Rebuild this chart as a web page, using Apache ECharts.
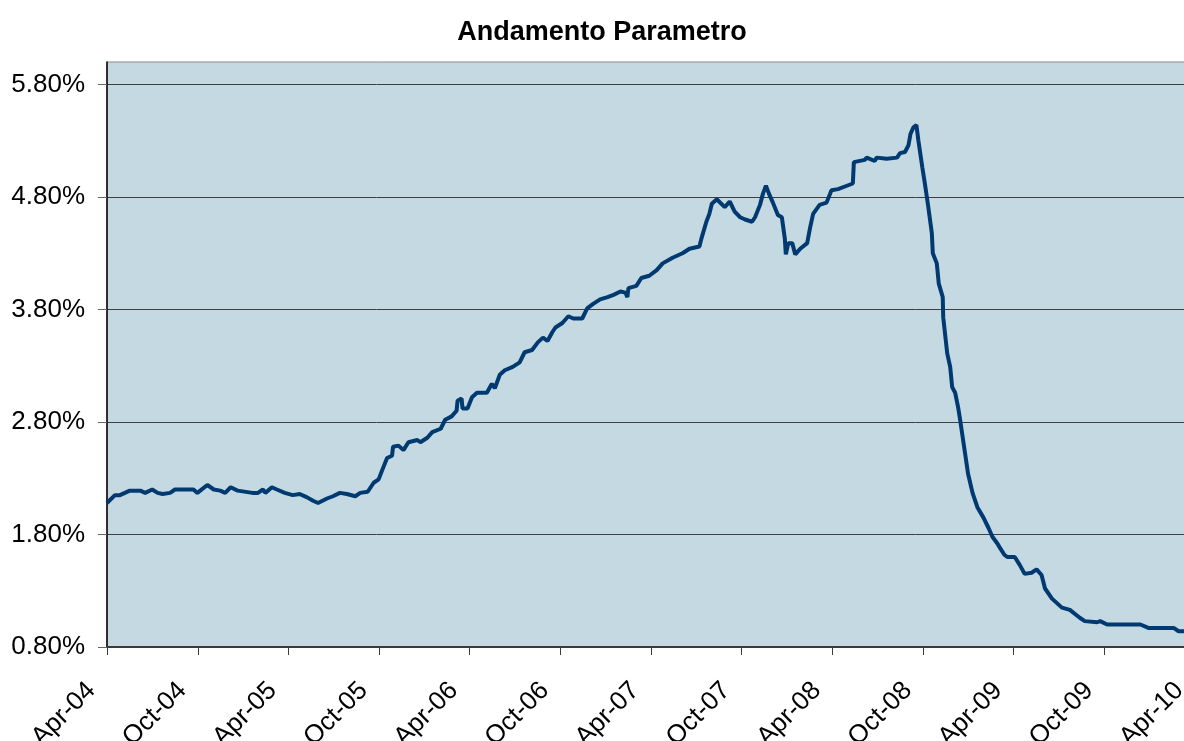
<!DOCTYPE html>
<html>
<head>
<meta charset="utf-8">
<script src="https://cdn.jsdelivr.net/npm/echarts@6/dist/echarts.min.js"></script>
<style>
html,body{margin:0;padding:0;background:#fff;}
#chart{width:1184px;height:741px;}
</style>
</head>
<body>
<div id="chart"></div>
<script>
const title = 'Andamento Parametro';

const dates = [
'2004-04-01','2004-04-17','2004-04-27','2004-05-17','2004-06-07','2004-06-17','2004-07-01','2004-07-12','2004-07-22','2004-08-06',
'2004-08-16','2004-09-22','2004-09-30','2004-10-20','2004-11-02','2004-11-15','2004-11-25','2004-12-06','2004-12-20','2005-01-19',
'2005-01-30','2005-02-09','2005-02-14','2005-02-27','2005-03-09','2005-03-25','2005-04-10','2005-04-24','2005-05-09','2005-05-21',
'2005-05-31','2005-06-18','2005-06-30','2005-07-14','2005-07-28','2005-08-14','2005-08-24','2005-09-08','2005-09-20','2005-09-30',
'2005-10-07','2005-10-17','2005-10-27','2005-10-29','2005-11-09','2005-11-19','2005-11-29','2005-12-17','2005-12-23','2006-01-06',
'2006-01-16','2006-02-02','2006-02-11','2006-02-24','2006-03-06','2006-03-08','2006-03-16','2006-03-18','2006-03-28','2006-04-06',
'2006-04-16','2006-05-06','2006-05-16','2006-05-22','2006-06-01','2006-06-11','2006-06-27','2006-07-11','2006-07-21','2006-08-05',
'2006-08-17','2006-08-27','2006-09-05','2006-09-15','2006-09-21','2006-10-05','2006-10-17','2006-10-27','2006-11-14','2006-11-24',
'2006-12-06','2006-12-20','2007-01-04','2007-01-16','2007-01-30','2007-02-09','2007-02-13','2007-02-15','2007-03-03','2007-03-13',
'2007-03-29','2007-04-13','2007-04-25','2007-05-15','2007-06-04','2007-06-18','2007-07-08','2007-07-12','2007-07-22','2007-07-28',
'2007-08-02','2007-08-12','2007-08-28','2007-09-07','2007-09-17','2007-09-28','2007-10-08','2007-10-22','2007-10-28','2007-11-07',
'2007-11-13','2007-11-19','2007-11-23','2007-11-25','2007-12-03','2007-12-13','2007-12-21','2007-12-27','2007-12-29','2008-01-03',
'2008-01-11','2008-01-17','2008-01-27','2008-02-10','2008-02-16','2008-02-22','2008-03-06','2008-03-20','2008-03-30','2008-04-12',
'2008-04-30','2008-05-12','2008-05-14','2008-06-05','2008-06-09','2008-06-25','2008-06-29','2008-07-19','2008-08-09','2008-08-15',
'2008-08-25','2008-09-01','2008-09-05','2008-09-11','2008-09-17','2008-09-21','2008-09-29','2008-10-04','2008-10-10','2008-10-18',
'2008-10-20','2008-10-28','2008-11-01','2008-11-09','2008-11-10','2008-11-18','2008-11-24','2008-11-28','2008-12-04','2008-12-10',
'2008-12-14','2008-12-18','2008-12-24','2008-12-30','2009-01-08','2009-01-18','2009-01-30','2009-02-09','2009-02-17','2009-02-27',
'2009-03-03','2009-03-13','2009-03-19','2009-04-03','2009-04-13','2009-04-23','2009-05-07','2009-05-17','2009-05-27','2009-06-03',
'2009-06-17','2009-07-07','2009-07-23','2009-08-12','2009-08-22','2009-09-16','2009-09-22','2009-10-06','2009-12-12','2009-12-28',
'2010-02-17','2010-02-27','2010-03-31'
];

const values = [
2.08,2.15,2.15,2.19,2.19,2.17,2.20,2.17,2.16,2.17,
2.20,2.20,2.17,2.24,2.20,2.19,2.17,2.22,2.19,2.17,
2.17,2.20,2.17,2.22,2.20,2.17,2.15,2.16,2.13,2.10,
2.08,2.12,2.14,2.17,2.16,2.14,2.17,2.18,2.26,2.29,
2.37,2.48,2.50,2.58,2.59,2.55,2.62,2.64,2.62,2.66,
2.71,2.74,2.82,2.85,2.90,2.99,3.01,2.92,2.92,3.02,
3.06,3.06,3.14,3.10,3.22,3.26,3.29,3.33,3.42,3.44,
3.51,3.55,3.52,3.60,3.64,3.68,3.74,3.72,3.72,3.81,
3.85,3.89,3.91,3.93,3.96,3.95,3.91,3.99,4.01,4.08,
4.10,4.15,4.21,4.26,4.30,4.34,4.36,4.43,4.58,4.65,
4.74,4.78,4.71,4.76,4.67,4.62,4.60,4.58,4.62,4.73,
4.83,4.90,4.90,4.83,4.75,4.64,4.62,4.43,4.29,4.39,
4.39,4.29,4.34,4.39,4.53,4.65,4.73,4.75,4.86,4.87,
4.90,4.92,5.11,5.13,5.15,5.12,5.15,5.14,5.15,5.19,
5.20,5.26,5.36,5.42,5.44,5.30,5.06,4.92,4.74,4.48,
4.30,4.21,4.03,3.91,3.73,3.41,3.29,3.11,3.06,2.93,
2.82,2.70,2.52,2.34,2.17,2.04,1.95,1.86,1.78,1.72,
1.69,1.62,1.60,1.60,1.53,1.45,1.46,1.49,1.44,1.32,
1.23,1.15,1.13,1.06,1.03,1.02,1.03,1.00,1.00,0.97,
0.97,0.94,0.94
];

const yTicks = [0.8, 1.8, 2.8, 3.8, 4.8, 5.8];
const xTickDates = [
'2004-04-01','2004-10-01','2005-04-01','2005-10-01','2006-04-01','2006-10-01','2007-04-01',
'2007-10-01','2008-04-01','2008-10-01','2009-04-01','2009-10-01','2010-04-01'
];
const monthNames = ['Jan','Feb','Mar','Apr','May','Jun','Jul','Aug','Sep','Oct','Nov','Dec'];

function toTime(s) {
  const [y, m, d] = s.split('-').map(Number);
  return Date.UTC(y, m - 1, d);
}
const xTicks = xTickDates.map(toTime);
const seriesData = dates.map((d, i) => [toTime(d), values[i]]);

const font = 'Liberation Sans, Arial, sans-serif';
const chart = echarts.init(document.getElementById('chart'), null, {renderer: 'canvas'});
chart.setOption({
  animation: false,
  title: {
    text: title,
    left: 597,
    textAlign: 'center',
    top: 14,
    textStyle: {fontFamily: font, fontSize: 27, fontWeight: 'bold', color: '#000'}
  },
  grid: {
    left: 107, top: 62, width: 1088, height: 585,
    containLabel: false,
    outerBoundsMode: 'none',
    show: true, backgroundColor: '#C5D9E3', borderColor: '#8a8a8a', borderWidth: 1
  },
  xAxis: {
    type: 'value',
    min: xTicks[0],
    max: xTicks[xTicks.length - 1],
    axisLine: {show: true, lineStyle: {color: '#3a3a3a', width: 2}},
    axisTick: {show: true, customValues: xTicks, length: 8, lineStyle: {color: '#3a3a3a', width: 1}},
    splitLine: {show: false},
    axisLabel: {
      customValues: xTicks,
      rotate: 45,
      margin: 24,
      padding: [0, 22, 0, 0],
      hideOverlap: false,
      fontFamily: font, fontSize: 26, color: '#000',
      formatter: function (v) {
        const d = new Date(v);
        return monthNames[d.getUTCMonth()] + '-' + String(d.getUTCFullYear() % 100).padStart(2, '0');
      }
    }
  },
  yAxis: {
    type: 'value',
    min: 0.8, max: 6.0, interval: 1,
    axisLine: {show: true, lineStyle: {color: '#000', width: 1.5}},
    axisTick: {show: true, customValues: yTicks, length: 9, lineStyle: {color: '#666'}},
    splitLine: {show: true, lineStyle: {color: '#3f3f3f', width: 1}},
    axisLabel: {
      customValues: yTicks,
      margin: 22,
      fontFamily: font, fontSize: 26, color: '#000',
      formatter: v => v.toFixed(2) + '%'
    }
  },
  series: [{
    type: 'line',
    data: seriesData,
    showSymbol: false,
    lineStyle: {color: '#003A70', width: 4},
    itemStyle: {color: '#003A70'}
  }]
});
</script>
</body>
</html>
